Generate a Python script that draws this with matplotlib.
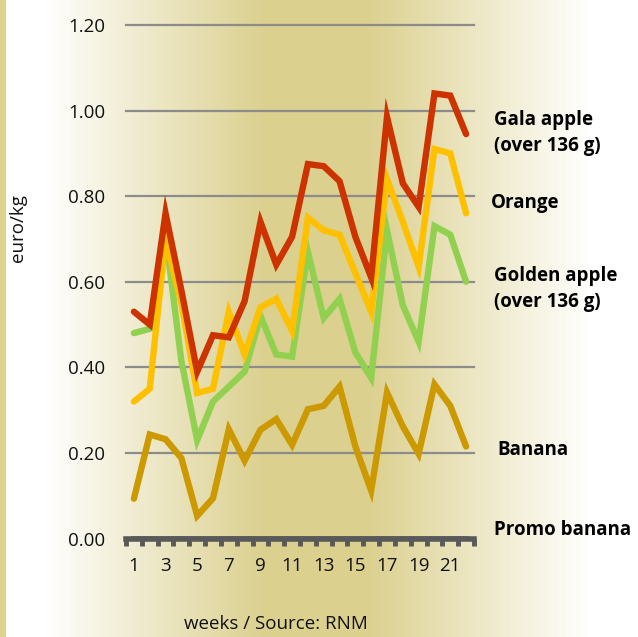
import numpy as np
import matplotlib
matplotlib.use("Agg")
import matplotlib.pyplot as plt

plt.rcParams['font.family'] = ['Open Sans', 'DejaVu Sans']

weeks = list(range(1, 23))
gala = [0.53, 0.50, 0.76, 0.58, 0.39, 0.475, 0.47, 0.555, 0.74, 0.64, 0.705, 0.875,
        0.87, 0.835, 0.705, 0.61, 0.985, 0.83, 0.775, 1.04, 1.035, 0.945]
orange = [0.32, 0.35, 0.70, 0.55, 0.34, 0.35, 0.53, 0.43, 0.54, 0.56, 0.485, 0.75,
          0.72, 0.71, 0.62, 0.53, 0.84, 0.74, 0.635, 0.91, 0.90, 0.76]
golden = [0.48, 0.49, 0.71, 0.415, 0.23, 0.32, 0.355, 0.39, 0.52, 0.43, 0.425, 0.67,
          0.515, 0.56, 0.435, 0.375, 0.72, 0.545, 0.46, 0.73, 0.71, 0.60]
banana = [0.093, 0.243, 0.232, 0.188, 0.053, 0.094, 0.255, 0.182, 0.254, 0.279, 0.219, 0.302,
          0.31, 0.355, 0.215, 0.112, 0.341, 0.262, 0.198, 0.36, 0.31, 0.215]
promo_banana = [0.0] * 22

series_names = ["Gala apple\n(over 136 g)", "Orange", "Golden apple\n(over 136 g)", "Banana", "Promo banana"]
colors = ["#cc3300", "#ffc000", "#92d050", "#cc9900", "#595959"]
xtick_labels = [str(w) for w in range(1, 22, 2)]
yticks = [0.0, 0.2, 0.4, 0.6, 0.8, 1.0, 1.2]

W, H = 638, 637
fig = plt.figure(figsize=(W / 100, H / 100), dpi=100)

# background gradient
bg = fig.add_axes([0, 0, 1, 1], zorder=0)
bg.set_axis_off()
xs = np.arange(W)
gold = np.array([219, 208, 142]) / 255.0
white = np.array([255, 255, 255]) / 255.0
def frac(x):
    if x < 45:
        return 0.0
    if x < 265:
        return (x - 45) / 220.0
    if x < 365:
        return 1.0
    if x < 590:
        return 1 - (x - 365) / 225.0
    return 0.0
row = np.array([white + (gold - white) * frac(x) for x in xs])
stripe = np.array([221, 211, 143]) / 255.0
row[:6] = stripe
img = np.tile(row[None, :, :], (H, 1, 1))
bg.imshow(img, aspect='auto', extent=[0, 1, 0, 1], origin='upper')
bg.set_xlim(0, 1)
bg.set_ylim(0, 1)

ax = fig.add_axes([126 / W, (H - 538.5) / H, (474 - 126) / W, (538.5 - 25) / H], zorder=1)
ax.patch.set_alpha(0)
ax.set_xlim(0.5, 22.5)
ax.set_ylim(0, 1.2)

for y in yticks[1:]:
    ax.axhline(y, color="#8c8c8c", lw=1.6, zorder=1, clip_on=False)

data = [gala, orange, golden, banana]
order = [3, 2, 1, 0]
for i in order:
    ax.plot(weeks, data[i], color=colors[i], lw=4.6, solid_joinstyle='miter',
            solid_capstyle='round', zorder=3 + (3 - i))
ax.plot(weeks, promo_banana, color=colors[4], lw=4.0, zorder=2)

for s in ['top', 'right', 'left']:
    ax.spines[s].set_visible(False)
ax.spines['bottom'].set_color("#595959")
ax.spines['bottom'].set_linewidth(4.0)
ax.spines['bottom'].set_zorder(10)

fs = 13.5
ax.set_yticks(yticks)
ax.set_yticklabels([f"{v:.2f}" for v in yticks], fontsize=fs, color="#111111")
ax.tick_params(axis='y', length=0, pad=15)

ax.set_xticks(range(1, 22, 2))
ax.set_xticklabels(xtick_labels, fontsize=fs, color="#111111")
ax.set_xticks(np.arange(0.5, 23.0, 1.0), minor=True)
ax.tick_params(axis='x', which='major', length=0, pad=13)
ax.tick_params(axis='x', which='minor', length=5, width=3.5, color="#595959", direction='out')

fig.text(18 / W, 1 - 228 / H, "euro/kg", rotation=90, ha='center', va='center', fontsize=fs, color="#111111")
fig.text(276 / W, 1 - 624 / H, "weeks / Source: RNM", ha='center', va='center', fontsize=fs, color="#111111")

lab_pos = [(494, 133), (491, 203), (494, 289), (497, 450), (494, 530)]
for name, (px, py) in zip(series_names, lab_pos):
    fig.text(px / W, 1 - py / H, name, ha='left', va='center', fontsize=13.5,
             fontweight='bold', color="#000000", linespacing=1.4)

fig.savefig("out.png", dpi=100)
